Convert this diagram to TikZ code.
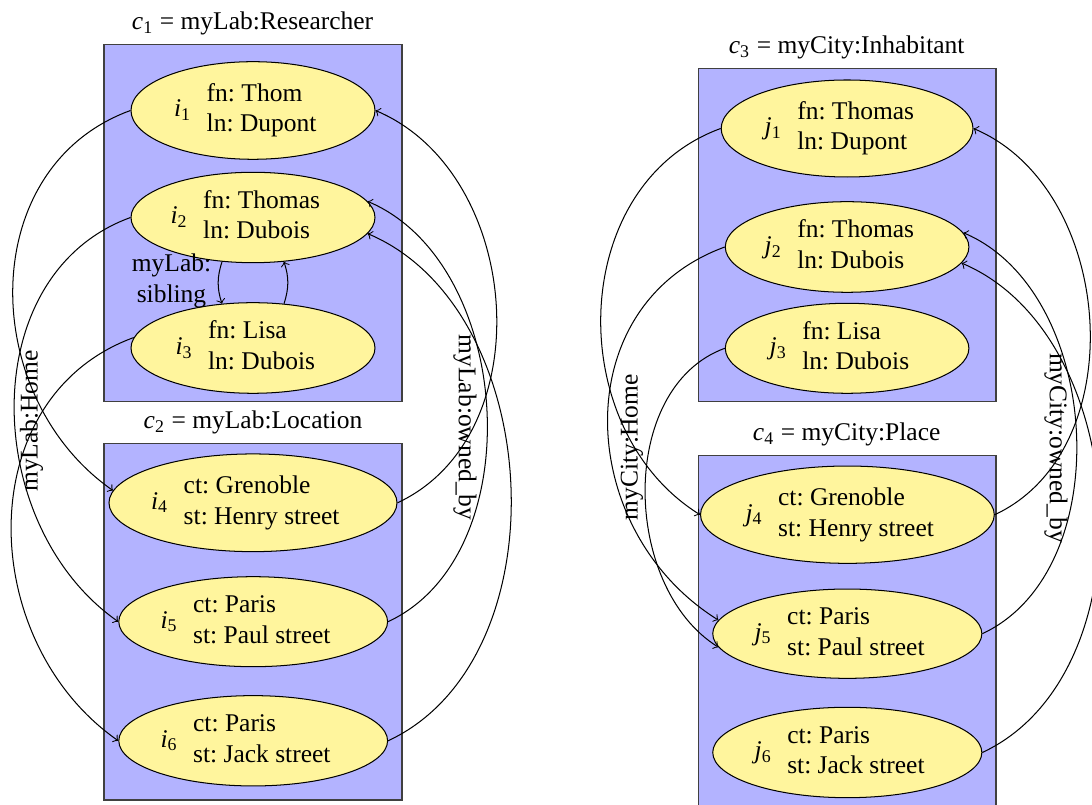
\documentclass[tikz,border=0pt]{standalone}
\usepackage{fontspec}
\setmainfont{Liberation Serif}
\usetikzlibrary{shapes.geometric}
\definecolor{boxfill}{RGB}{179,179,255}
\definecolor{ellfill}{RGB}{255,245,157}
\newcommand{\vsub}[2]{\textit{#1}\textsubscript{#2}}
\newcommand{\ent}[3]{\vsub{#1}{#2}\begin{tabular}{l}#3\end{tabular}}
\frenchspacing
\tikzset{
  cls/.style={draw=black!75, fill=boxfill},
  ell/.style 2 args={ellipse, draw=black, fill=ellfill, inner sep=0pt,
    minimum width=#1*0.39216pt, minimum height=#2*0.39216pt},
  ttl/.style={anchor=base, inner sep=0pt},
  rel/.style={->},
  lbl/.style={inner sep=0pt},
}
\begin{document}
\begin{tikzpicture}[x=0.39216pt, y=0.39216pt]
\useasboundingbox (0,0) rectangle (1092,-805);
% class boxes
\draw[cls] (104,-45) rectangle (402,-401.7);
\draw[cls] (104,-443.3) rectangle (402,-800);
\draw[cls] (698.4,-69) rectangle (996,-401.7);
\draw[cls] (698.4,-455.7) rectangle (996,-830);
% titles
\node[ttl] (t1) at (252.6,-30) {\vsub{c}{1} = myLab:Researcher};
\node[ttl] (t2) at (253,-429) {\vsub{c}{2} = myLab:Location};
\node[ttl] (t3) at (846.7,-53.3) {\vsub{c}{3} = myCity:Inhabitant};
\node[ttl] (t4) at (846.7,-440.5) {\vsub{c}{4} = myCity:Place};
% instances left
\node[ell={244}{97.6}] (i1) at (253,-110.5) {\ent{i}{1}{fn: Thom\\ln: Dupont}};
\node[ell={244}{90.4}] (i2) at (253,-217.5) {\ent{i}{2}{fn: Thomas\\ln: Dubois}};
\node[ell={244}{90.6}] (i3) at (253,-348) {\ent{i}{3}{fn: Lisa\\ln: Dubois}};
\node[ell={286}{97.7}] (i4) at (253,-502.8) {\ent{i}{4}{ct: Grenoble\\st: Henry street}};
\node[ell={268.8}{90}] (i5) at (253.2,-621.7) {\ent{i}{5}{ct: Paris\\st: Paul street}};
\node[ell={268.8}{90.3}] (i6) at (253.2,-740.8) {\ent{i}{6}{ct: Paris\\st: Jack street}};
% instances right
\node[ell={251.8}{97}] (j1) at (847.1,-128.5) {\ent{j}{1}{fn: Thomas\\ln: Dupont}};
\node[ell={243.6}{90.6}] (j2) at (847.1,-247) {\ent{j}{2}{fn: Thomas\\ln: Dubois}};
\node[ell={243.6}{90}] (j3) at (847.1,-348.3) {\ent{j}{3}{fn: Lisa\\ln: Dubois}};
\node[ell={293.8}{97.3}] (j4) at (847.4,-514.7) {\ent{j}{4}{ct: Grenoble\\st: Henry street}};
\node[ell={269.1}{89.3}] (j5) at (847.3,-633.7) {\ent{j}{5}{ct: Paris\\st: Paul street}};
\node[ell={269.1}{90.4}] (j6) at (847.3,-752.5) {\ent{j}{6}{ct: Paris\\st: Jack street}};
% sibling
\draw[rel] (i2.235) to[bend right=18] (i3.125);
\draw[rel] (i3.55) to[bend right=18] (i2.305);
\node[lbl] (sib) at (171.5,-281) {\begin{tabular}{@{}c@{}}myLab:\\sibling\end{tabular}};
% myLab:Home
\draw[rel] (i1.west) .. controls +(200:165) and +(145:165) .. (i4.175);
\draw[rel] (i2.west) .. controls +(200:167) and +(145:167) .. (i5.west);
\draw[rel] (i3.175) .. controls +(200:174) and +(145:174) .. (i6.west);
\node[lbl, rotate=90] (lhome) at (31.6,-421) {myLab:Home};
% myLab:owned_by
\draw[rel] (i4.east) .. controls +(25:160) and +(-23:160) .. (i1.east);
\draw[rel] (i5.east) .. controls +(25:159) and +(-23:159) .. (i2.8);
\draw[rel] (i6.east) .. controls +(25:194) and +(-23:194) .. (i2.352);
\node[lbl, rotate=-90] (lown) at (465,-427.6) {myLab:owned\_by};
% myCity:Home
\draw[rel] (j1.west) .. controls +(200:163) and +(148:163) .. (j4.west);
\draw[rel] (j2.west) .. controls +(200:170) and +(148:170) .. (j5.174);
\draw[rel] (j3.west) .. controls +(200:114) and +(148:114) .. (j5.186);
\node[lbl, rotate=90] (chome) at (632,-447.5) {myCity:Home};
% myCity:owned_by
\draw[rel] (j4.east) .. controls +(25:154) and +(-23:154) .. (j1.east);
\draw[rel] (j5.east) .. controls +(25:151) and +(-23:151) .. (j2.7);
\draw[rel] (j6.east) .. controls +(25:186) and +(-23:186) .. (j2.352);
\node[lbl, rotate=-90] (cown) at (1056,-448) {myCity:owned\_by};
\end{tikzpicture}
\end{document}
